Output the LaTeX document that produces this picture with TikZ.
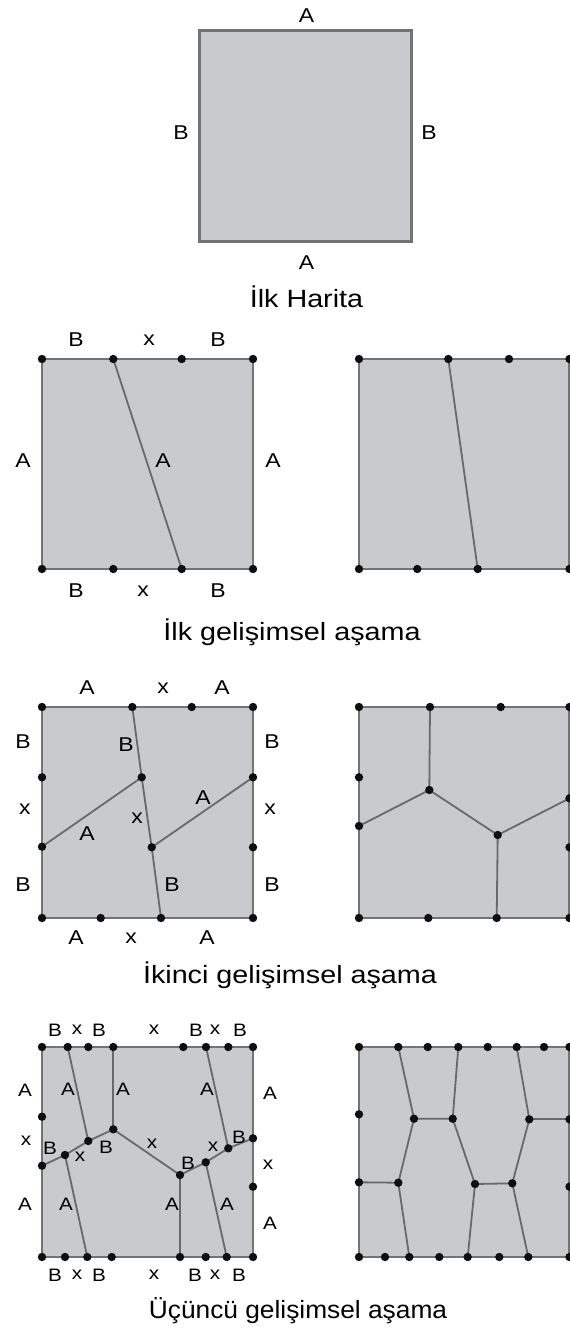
\documentclass[tikz,border=0pt]{standalone}
\usepackage{fontspec}
\setmainfont{Liberation Sans}[FakeStretch=1.15]
\definecolor{mapgray}{RGB}{201,202,205}
\definecolor{edgegray}{RGB}{115,115,117}
\definecolor{linegray}{RGB}{105,105,107}
\definecolor{dotc}{RGB}{15,15,15}
\tikzset{
  map/.style={fill=mapgray, draw=edgegray, line width=2.4pt},
  bigmap/.style={fill=mapgray, draw=edgegray, line width=3pt},
  edge/.style={draw=linegray, line width=1.8pt},
  lab/.style={inner sep=0pt, font=\fontsize{20}{20}\selectfont},
  slab/.style={inner sep=0pt, font=\fontsize{18}{18}\selectfont},
  captxt/.style={inner sep=0pt, font=\fontsize{25}{25}\selectfont},
}
\newcommand{\mapdots}[1]{\foreach \p in {#1} \fill[dotc] (\p) circle (4.2);}
\begin{document}
\begin{tikzpicture}[x=1pt,y=-1pt]
\useasboundingbox (0,0) rectangle (570,1333);
% ---------- initial map
\coordinate (m0a) at (199,30);
\coordinate (m0b) at (411,241);
\path[bigmap] (m0a) rectangle (m0b);
\node[lab] (t0) at (306.5,16) {A};
\node[lab] (b0) at (306.5,263) {A};
\node[lab] (l0) at (181,133) {B};
\node[lab] (r0) at (429,133) {B};
\node[captxt] (c0) at (306.5,297) {İlk Harita};

% ---------- stage 1 left
\coordinate (a1) at (42,359); \coordinate (a2) at (113.3,359);
\coordinate (a3) at (181.7,359); \coordinate (a4) at (253,359);
\coordinate (b1) at (42,569); \coordinate (b2) at (113.3,569);
\coordinate (b3) at (181.7,569); \coordinate (b4) at (253,569);
\path[map] (a1) rectangle (b4);
\draw[edge] (a2) -- (b3);
\mapdots{a1,a2,a3,a4,b1,b2,b3,b4}
\node[lab] (s1t1) at (76,340) {B};
\node[lab] (s1t2) at (149,340) {x};
\node[lab] (s1t3) at (218,340) {B};
\node[lab] (s1l) at (23,461) {A};
\node[lab] (s1m) at (163,461) {A};
\node[lab] (s1r) at (273,461) {A};
\node[lab] (s1b1) at (76,591) {B};
\node[lab] (s1b2) at (143,591) {x};
\node[lab] (s1b3) at (218,591) {B};

% ---------- stage 1 right
\coordinate (c1) at (359,359); \coordinate (c2) at (448.3,359);
\coordinate (c3) at (509,359); \coordinate (c4) at (569.5,359);
\coordinate (d1) at (359,569); \coordinate (d2) at (417.3,569);
\coordinate (d3) at (477.7,569); \coordinate (d4) at (569.5,569);
\path[map] (c1) rectangle (d4);
\draw[edge] (c2) -- (d3);
\mapdots{c1,c2,c3,c4,d1,d2,d3,d4}
\node[captxt] (c1t) at (292,632) {İlk gelişimsel aşama};

% ---------- stage 2 left
\coordinate (e1) at (42,707); \coordinate (e2) at (132.3,707);
\coordinate (e3) at (191.7,707); \coordinate (e4) at (253,707);
\coordinate (f1) at (42,918); \coordinate (f2) at (100.7,918);
\coordinate (f3) at (161,918); \coordinate (f4) at (253,918);
\coordinate (el1) at (42,777.3); \coordinate (el2) at (42,846.7);
\coordinate (er1) at (253,777.3); \coordinate (er2) at (253,847.3);
\coordinate (p1) at (141.7,777.3); \coordinate (p2) at (151.7,847.3);
\path[map] (e1) rectangle (f4);
\draw[edge] (e2) -- (p1) -- (p2) -- (f3);
\draw[edge] (p1) -- (el2);
\draw[edge] (p2) -- (er1);
\mapdots{e1,e2,e3,e4,f1,f2,f3,f4,el1,el2,er1,er2,p1,p2}
\node[lab] (s2t1) at (87,688) {A};
\node[lab] (s2t2) at (163,688) {x};
\node[lab] (s2t3) at (222,688) {A};
\node[lab] (s2l1) at (23,742) {B};
\node[lab] (s2l2) at (25,809) {x};
\node[lab] (s2l3) at (23,885) {B};
\node[lab] (s2r1) at (272,742) {B};
\node[lab] (s2r2) at (270,809) {x};
\node[lab] (s2r3) at (272,885) {B};
\node[lab] (s2i1) at (126,745) {B};
\node[lab] (s2i2) at (203,798) {A};
\node[lab] (s2i3) at (137,818) {x};
\node[lab] (s2i4) at (87,834) {A};
\node[lab] (s2i5) at (172,885) {B};
\node[lab] (s2b1) at (76,938) {A};
\node[lab] (s2b2) at (131,938) {x};
\node[lab] (s2b3) at (207,938) {A};

% ---------- stage 2 right
\coordinate (g1) at (359,707); \coordinate (g2) at (430,707);
\coordinate (g3) at (500.7,707); \coordinate (g4) at (569.5,707);
\coordinate (h1) at (359,918); \coordinate (h2) at (428.3,918);
\coordinate (h3) at (496.7,918); \coordinate (h4) at (569.5,918);
\coordinate (gl1) at (359,777.3); \coordinate (gl2) at (359,826);
\coordinate (gr1) at (569.5,798.3); \coordinate (gr2) at (569.5,847.3);
\coordinate (q1) at (429.3,790); \coordinate (q2) at (497.7,835);
\path[map] (g1) rectangle (h4);
\draw[edge] (g2) -- (q1) -- (q2) -- (h3);
\draw[edge] (q1) -- (gl2);
\draw[edge] (q2) -- (gr1);
\mapdots{g1,g2,g3,g4,h1,h2,h3,h4,gl1,gl2,gr1,gr2,q1,q2}
\node[captxt] (c2t) at (290,975) {İkinci gelişimsel aşama};

% ---------- stage 3 left
\coordinate (i1) at (42,1047); \coordinate (i2) at (67.7,1047);
\coordinate (i3) at (88.3,1047); \coordinate (i4) at (113.3,1047);
\coordinate (i5) at (183.3,1047); \coordinate (i6) at (206,1047);
\coordinate (i7) at (228.3,1047); \coordinate (i8) at (253,1047);
\coordinate (j1) at (42,1257); \coordinate (j2) at (65,1257);
\coordinate (j3) at (87.3,1257); \coordinate (j4) at (111.7,1257);
\coordinate (j5) at (180,1257); \coordinate (j6) at (205.7,1257);
\coordinate (j7) at (226.7,1257); \coordinate (j8) at (253,1257);
\coordinate (il1) at (42,1116.7); \coordinate (il2) at (42,1165.7);
\coordinate (ir1) at (253,1138.3); \coordinate (ir2) at (253,1186.7);
\coordinate (r1) at (88.3,1141); \coordinate (r2) at (113.3,1129.3);
\coordinate (r3) at (65,1155); \coordinate (r4) at (180,1175);
\coordinate (r5) at (205.7,1162.3); \coordinate (r6) at (228.3,1148.3);
\path[map] (i1) rectangle (j8);
\draw[edge] (il2) -- (r3) -- (r1) -- (r2) -- (r4) -- (r5) -- (r6) -- (ir1);
\draw[edge] (i2) -- (r1);
\draw[edge] (i4) -- (r2);
\draw[edge] (i6) -- (r6);
\draw[edge] (r3) -- (j3);
\draw[edge] (r4) -- (j5);
\draw[edge] (r5) -- (j7);
\mapdots{i1,i2,i3,i4,i5,i6,i7,i8,j1,j2,j3,j4,j5,j6,j7,j8,il1,il2,ir1,ir2,r1,r2,r3,r4,r5,r6}
\node[slab] (s3t1) at (55,1030) {B};
\node[slab] (s3t2) at (77,1030) {x};
\node[slab] (s3t3) at (99,1030) {B};
\node[slab] (s3t4) at (154,1030) {x};
\node[slab] (s3t5) at (196,1030) {B};
\node[slab] (s3t6) at (215,1030) {x};
\node[slab] (s3t7) at (240,1030) {B};
\node[slab] (s3b1) at (55,1275) {B};
\node[slab] (s3b2) at (77,1275) {x};
\node[slab] (s3b3) at (99,1275) {B};
\node[slab] (s3b4) at (154,1275) {x};
\node[slab] (s3b5) at (195,1275) {B};
\node[slab] (s3b6) at (215,1275) {x};
\node[slab] (s3b7) at (239,1275) {B};
\node[slab] (s3l1) at (25,1090) {A};
\node[slab] (s3l2) at (26,1141) {x};
\node[slab] (s3l3) at (25,1204) {A};
\node[slab] (s3r1) at (270,1093) {A};
\node[slab] (s3r2) at (268,1165) {x};
\node[slab] (s3r3) at (270,1223) {A};
\node[slab] (s3u1) at (68,1089) {A};
\node[slab] (s3u2) at (123,1089) {A};
\node[slab] (s3u3) at (207,1089) {A};
\node[slab] (s3m1) at (50,1148) {B};
\node[slab] (s3m2) at (80,1157) {x};
\node[slab] (s3m3) at (106,1147) {B};
\node[slab] (s3m4) at (152,1144) {x};
\node[slab] (s3m5) at (188,1163) {B};
\node[slab] (s3m6) at (213,1147) {x};
\node[slab] (s3m7) at (239,1137) {B};
\node[slab] (s3d1) at (66,1204) {A};
\node[slab] (s3d2) at (172,1204) {A};
\node[slab] (s3d3) at (227,1204) {A};

% ---------- stage 3 right
\coordinate (k1) at (359,1047); \coordinate (k2) at (398.3,1047);
\coordinate (k3) at (427.7,1047); \coordinate (k4) at (458.3,1047);
\coordinate (k5) at (487.7,1047); \coordinate (k6) at (516.7,1047);
\coordinate (k7) at (544,1047); \coordinate (k8) at (569.5,1047);
\coordinate (n1) at (359,1257); \coordinate (n2) at (385,1257);
\coordinate (n3) at (409.3,1257); \coordinate (n4) at (439.3,1257);
\coordinate (n5) at (467.7,1257); \coordinate (n6) at (499.3,1257);
\coordinate (n7) at (528.3,1257); \coordinate (n8) at (569.5,1257);
\coordinate (kl1) at (359,1114.3); \coordinate (kl2) at (359,1182.3);
\coordinate (kr1) at (569.5,1119.3); \coordinate (kr2) at (569.5,1186.7);
\coordinate (u1) at (414,1118.7); \coordinate (u2) at (452.7,1118.7);
\coordinate (u3) at (398.3,1182.7); \coordinate (u4) at (475,1184);
\coordinate (u5) at (512.3,1183.3); \coordinate (u6) at (529.3,1119.3);
\path[map] (k1) rectangle (n8);
\draw[edge] (k2) -- (u1) -- (u2) -- (k4);
\draw[edge] (u1) -- (u3) -- (kl2);
\draw[edge] (u3) -- (n3);
\draw[edge] (u2) -- (u4) -- (u5) -- (u6) -- (k6);
\draw[edge] (u4) -- (n5);
\draw[edge] (u5) -- (n7);
\draw[edge] (u6) -- (kr1);
\mapdots{k1,k2,k3,k4,k5,k6,k7,k8,n1,n2,n3,n4,n5,n6,n7,n8,kl1,kl2,kr1,kr2,u1,u2,u3,u4,u5,u6}
\node[captxt] (c3t) at (298,1311) {\scalebox{0.915}[1]{Üçüncü gelişimsel aşama}};
\end{tikzpicture}
\end{document}
